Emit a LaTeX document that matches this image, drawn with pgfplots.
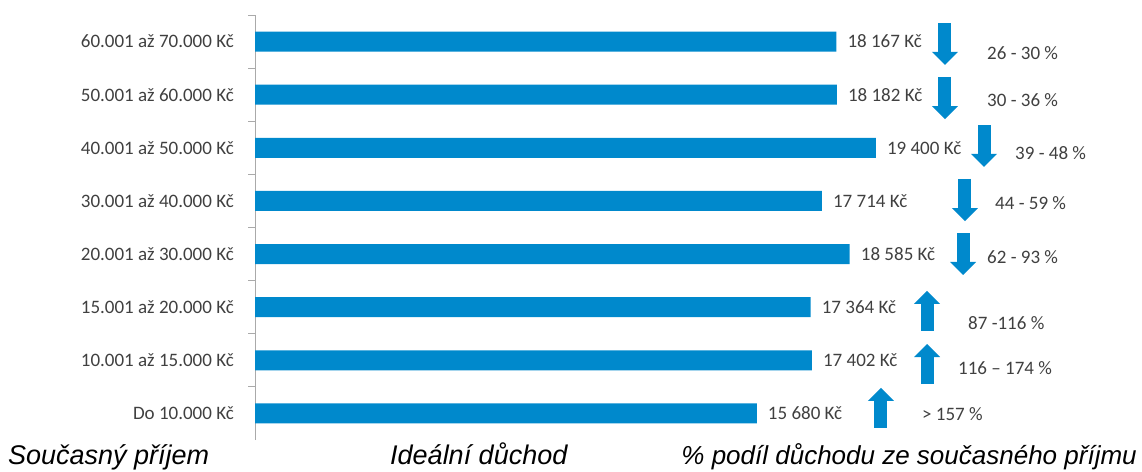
\documentclass[border=0pt]{standalone}
\usepackage{fontspec}
\setmainfont{Carlito}
\newfontfamily\arialfont{Liberation Sans}
\usepackage{pgfplots}
\pgfplotsset{compat=1.18}
\usetikzlibrary{arrows.meta}
\definecolor{barblue}{RGB}{0,137,204}
\definecolor{txtgray}{RGB}{64,64,64}
\definecolor{axgray}{RGB}{170,170,170}
\begin{document}
\begin{tikzpicture}[x=1pt,y=1pt]
\useasboundingbox (0,0) rectangle (1142,471);
\begin{axis}[
  at={(255pt,31pt)}, anchor=south west,
  scale only axis, width=864pt, height=425pt,
  xmin=0, xmax=27000, ymin=-0.5, ymax=7.5,
  hide x axis,
  axis y line*=left,
  y axis line style={draw=axgray, line width=0.8pt},
  ytick={0,...,7},
  yticklabels={Do 10.000 Kč, 10.001 až 15.000 Kč, 15.001 až 20.000 Kč, 20.001 až 30.000 Kč, 30.001 až 40.000 Kč, 40.001 až 50.000 Kč, 50.001 až 60.000 Kč, 60.001 až 70.000 Kč},
  major tick length=0pt,
  minor ytick={0.5,1.5,...,7.5},
  minor tick length=7pt,
  tick align=outside,
  minor tick style={draw=axgray, line width=0.8pt},
  yticklabel style={font=\fontsize{19}{22}\selectfont, text=txtgray, inner sep=0pt, xshift=-21pt},
  clip=false,
]
\addplot[xbar, bar width=20pt, fill=barblue, draw=none,
  nodes near coords, point meta=explicit symbolic,
  nodes near coords style={anchor=west, inner sep=0pt, xshift=11pt, font=\fontsize{19}{22}\selectfont, text=txtgray}]
coordinates {
 (18167,7) [18 167 Kč]
 (18182,6) [18 182 Kč]
 (19400,5) [19 400 Kč]
 (17714,4) [17 714 Kč]
 (18585,3) [18 585 Kč]
 (17364,2) [17 364 Kč]
 (17402,1) [17 402 Kč]
 (15680,0) [15 680 Kč]
};
\addplot[quiver={u=\thisrow{u},v=\thisrow{v}}, draw=barblue, line width=13pt,
  -{Triangle[width=26pt,length=13pt,line width=0pt]}] table {
x y u v
21562 7.349 0 -0.790
21562 6.333 0 -0.791
22781 5.429 0 -0.790
22187 4.413 0 -0.791
22125 3.396 0 -0.790
21000 1.552 0 0.753
21000 0.554 0 0.753
19562 -0.274 0 0.753
};
\begin{scope}[every node/.style={anchor=west, inner sep=0pt, font=\fontsize{19}{22}\selectfont, text=txtgray}]
\node at (axis cs:22875,6.785) {26 - 30 \%};
\node at (axis cs:22875,5.900) {30 - 36 \%};
\node at (axis cs:23750,4.902) {39 - 48 \%};
\node at (axis cs:23125,3.961) {44 - 59 \%};
\node at (axis cs:22875,2.945) {62 - 93 \%};
\node at (axis cs:22281,1.702) {87 -116 \%};
\node at (axis cs:21969,0.855) {116 – 174 \%};
\node at (axis cs:20844,-0.011) {> 157 \%};
\end{scope}
\begin{scope}[every node/.style={anchor=base west, inner sep=0pt, font=\arialfont\itshape\fontsize{27}{30}\selectfont, text=black}]
\node at (axis cs:-7719,-0.97) {Současný příjem};
\node at (axis cs:4219,-0.97) {Ideální důchod};
\node[anchor=base east, font=\arialfont\itshape\fontsize{26}{30}\selectfont] at (axis cs:27560,-0.97) {\% podíl důchodu ze současného příjmu};
\end{scope}
\end{axis}
\end{tikzpicture}
\end{document}
